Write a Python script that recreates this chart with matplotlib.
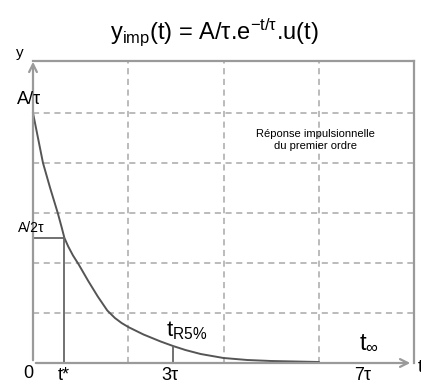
import matplotlib
matplotlib.use("Agg")
import matplotlib.pyplot as plt

plt.rcParams['font.family'] = ['Liberation Sans', 'DejaVu Sans']
plt.rcParams['mathtext.fontset'] = 'custom'
plt.rcParams['mathtext.rm'] = 'Liberation Sans'
plt.rcParams['mathtext.it'] = 'Liberation Sans'
plt.rcParams['mathtext.bf'] = 'Liberation Sans:bold'

# Curve (x and y in grid units)
curve_t = [0.0, 0.105, 0.18, 0.26, 0.30, 0.33, 0.37, 0.42, 0.48, 0.58, 0.68,
           0.78, 0.86, 0.93, 1.0, 1.16, 1.34, 1.47, 1.6, 1.76, 2.0, 2.25,
           2.5, 3.0]
curve_y = [5.0, 4.0, 3.5, 3.0, 2.72, 2.5, 2.33, 2.15, 1.97, 1.64, 1.33,
           1.05, 0.9, 0.8, 0.72, 0.57, 0.43, 0.34, 0.26, 0.18, 0.1, 0.06,
           0.04, 0.02]

t_star = 0.33
y_half = 2.5
t_r5 = 1.47
y_r5 = 0.33

x_grid = [1, 2, 3]
y_grid = [1, 2, 3, 4, 5]

title_text = r'$\mathrm{y_{imp}}$(t) = A/τ.e$^{\mathrm{-t/\tau}}$.u(t)'
note_text = "Réponse impulsionnelle\ndu premier ordre"

W, H = 421, 383
fig = plt.figure(figsize=(W / 100, H / 100), dpi=100)
ax = fig.add_axes([33 / W, (H - 363) / H, 381 / W, 302 / H])
ax.set_xlim(0, 4)
ax.set_ylim(0, 6.04)
for s in ax.spines.values():
    s.set_visible(False)
ax.set_xticks([])
ax.set_yticks([])

grey = '#9a9a9a'
dash = (0, (4, 3))
for x in x_grid:
    ax.plot([x, x], [0, 6.04], color='#a8a8a8', lw=1.1, ls=dash)
for y in y_grid:
    ax.plot([0, 4], [y, y], color='#a8a8a8', lw=1.1, ls=dash)

# frame top & right
ax.plot([0, 4], [6.04, 6.04], color=grey, lw=1.6, clip_on=False)
ax.plot([4, 4], [0, 6.04], color=grey, lw=1.6, clip_on=False)

# axes with arrows
ax.annotate('', xy=(3.99, 0), xytext=(0, 0),
            arrowprops=dict(arrowstyle='->', color=grey, lw=1.6, mutation_scale=14),
            annotation_clip=False)
ax.annotate('', xy=(0, 6.08), xytext=(0, 0),
            arrowprops=dict(arrowstyle='->', color=grey, lw=1.6, mutation_scale=14),
            annotation_clip=False)

# curve
ax.plot(curve_t, curve_y, color='#555555', lw=1.4, clip_on=False,
        solid_joinstyle='round')

# helper lines
ax.plot([0, t_star], [y_half, y_half], color='#666666', lw=1.3)
ax.plot([t_star, t_star], [0, y_half], color='#666666', lw=1.3)
ax.plot([t_r5, t_r5], [0, y_r5], color='#666666', lw=1.3)

# labels
fig.text(214 / W, 1 - 32 / H, title_text, ha='center', va='center', fontsize=17)
fig.text(20 / W, 1 - 53 / H, 'y', ha='center', va='center', fontsize=11)
fig.text(29 / W, 1 - 99 / H, 'A/τ', ha='center', va='center', fontsize=13)
fig.text(31 / W, 1 - 228 / H, 'A/2τ', ha='center', va='center', fontsize=10)
fig.text(28 / W, 1 - 374 / H, '0', ha='center', va='center', fontsize=13)
fig.text(64 / W, 1 - 375 / H, 't*', ha='center', va='center', fontsize=13)
fig.text(170 / W, 1 - 375 / H, '3τ', ha='center', va='center', fontsize=13)
fig.text(363 / W, 1 - 375 / H, '7τ', ha='center', va='center', fontsize=13)
fig.text(187 / W, 1 - 331 / H, r'$\mathrm{t_{R5\%}}$', ha='center', va='center', fontsize=16)
fig.text(369 / W, 1 - 343 / H, r'$\mathrm{t_{\infty}}$', ha='center', va='center', fontsize=17)
fig.text(420 / W, 1 - 367 / H, 't', ha='center', va='center', fontsize=13)
fig.text(315 / W, 1 - 140 / H, note_text, ha='center', va='center', fontsize=8,
         linespacing=1.35)

fig.savefig('out.png', dpi=100)
